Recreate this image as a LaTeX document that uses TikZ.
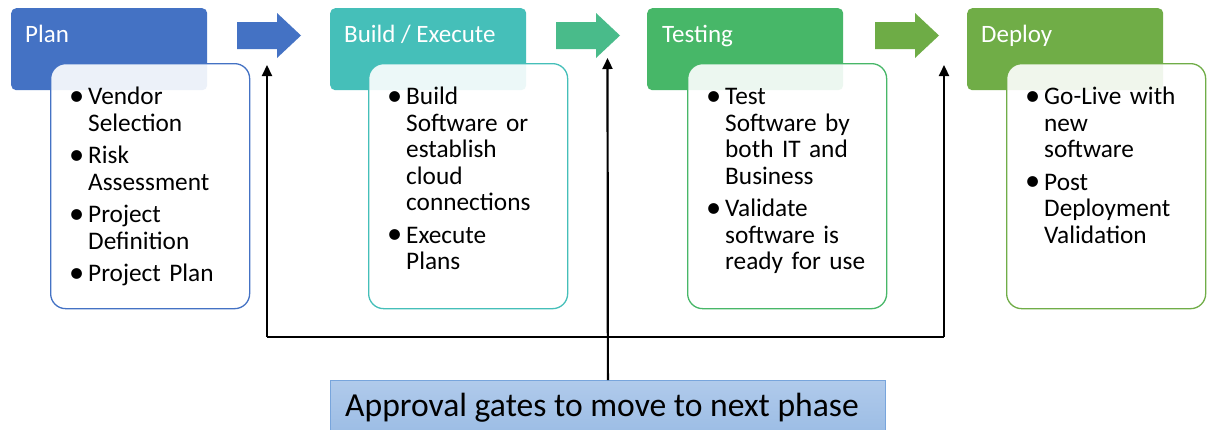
\documentclass[tikz,border=0pt]{standalone}
\usepackage{fontspec}
\usepackage{graphicx}
\setmainfont{Carlito}
\usetikzlibrary{arrows.meta}
\definecolor{cplan}{RGB}{68,114,196}
\definecolor{cbuild}{RGB}{69,191,185}
\definecolor{ctest}{RGB}{71,183,104}
\definecolor{cdeploy}{RGB}{112,173,71}
\definecolor{carr2}{RGB}{73,187,138}
\definecolor{carr3}{RGB}{110,172,70}
\definecolor{apptop}{RGB}{176,202,235}
\definecolor{appbot}{RGB}{153,187,228}
\definecolor{appline}{RGB}{120,165,220}
\newcommand\bitem[1]{\par\noindent\hangindent=16pt\hangafter=1\makebox[16pt][l]{\hspace*{-3pt}\makebox[0pt][l]{\raisebox{-0.6pt}{\scalebox{1.2}{\textbullet}}}}#1\par}
\tikzset{
  header/.style={rectangle, rounded corners=5pt, fill=#1, draw=none, minimum width=196pt, minimum height=82pt, anchor=north west, inner sep=0pt},
  htext/.style={anchor=base west, inner sep=0pt, text=white, font=\fontsize{25}{30}\selectfont},
  detail/.style={rectangle, rounded corners=15pt, draw=#1, line width=1.3pt, fill=white, fill opacity=0.9, minimum width=199pt, minimum height=245pt, anchor=north west, inner sep=0pt},
  dtext/.style={anchor=base west, inner sep=0pt, text width=165pt, font=\fontsize{25.3}{26.5}\selectfont\setlength{\parskip}{6pt}},
  conn/.style={line width=2.2pt, black},
  gate/.style={conn, -{Triangle[width=10pt,length=11pt]}},
}
\newcommand\fatarrow[3]{% x, color
  \fill[#2] (#1,22) -- (#1+40,22) -- (#1+40,13) -- (#1+64,35.5) -- (#1+40,58) -- (#1+40,49) -- (#1,49) -- cycle;}
\begin{document}
\begin{tikzpicture}[x=1pt,y=-1pt]
\clip (0,0) rectangle (1207,429);
\fill[white] (0,0) rectangle (1207,429);
% headers
\node[header=cplan] (h1) at (11,8) {};
\node[header=cbuild] (h2) at (330,8) {};
\node[header=ctest] (h3) at (647,8) {};
\node[header=cdeploy] (h4) at (967,8) {};
\node[htext] (h1t) at (25,42) {Plan};
\node[htext] (h2t) at (344,42) {Build / Execute};
\node[htext] (h3t) at (662,42) {Testing};
\node[htext] (h4t) at (981,42) {Deploy};
% detail boxes
\node[detail=cplan] (d1) at (50,63) {};
\node[detail=cbuild] (d2) at (368,63) {};
\node[detail=ctest] (d3) at (687,63) {};
\node[detail=cdeploy] (d4) at (1006,63) {};
\node[dtext] (d1t) at (72,72) {\bitem{Vendor\newline Selection}\bitem{Risk\newline Assessment}\bitem{Project\newline Definition}\bitem{Project Plan}};
\node[dtext] (d2t) at (390,72) {\bitem{Build\newline Software or\newline establish\newline cloud\newline connections}\bitem{Execute\newline Plans}};
\node[dtext] (d3t) at (709,72) {\bitem{Test\newline Software by\newline both IT and\newline Business}\bitem{Validate\newline software is\newline ready for use}};
\node[dtext] (d4t) at (1028,72) {\bitem{Go-Live with\newline new\newline software}\bitem{Post\newline Deployment\newline Validation}};
% block arrows
\fatarrow{237}{cplan}{}
\fatarrow{556}{carr2}{}
\fatarrow{875}{carr3}{}
% approval box
\node[rectangle, anchor=north west, minimum width=555pt, minimum height=60pt, inner sep=0pt, top color=apptop, bottom color=appbot, draw=appline, line width=0.8pt] (appr) at (330,380) {};
\node[anchor=base west, inner sep=0pt, font=\fontsize{33.6}{38}\selectfont] (apprt) at (345,416) {Approval gates to move to next phase};
% gate connectors
\coordinate (j1) at (267,337);
\coordinate (j3) at (944,337);
\coordinate (t1) at (267,65);
\coordinate (t2) at (607.5,58);
\coordinate (t3) at (944,65);
\draw[conn] (j1) -- (j3);
\draw[gate] (j1) -- (t1);
\draw[gate] (j3) -- (t3);
\draw[gate] (appr.north) -- (t2);
\end{tikzpicture}
\end{document}
